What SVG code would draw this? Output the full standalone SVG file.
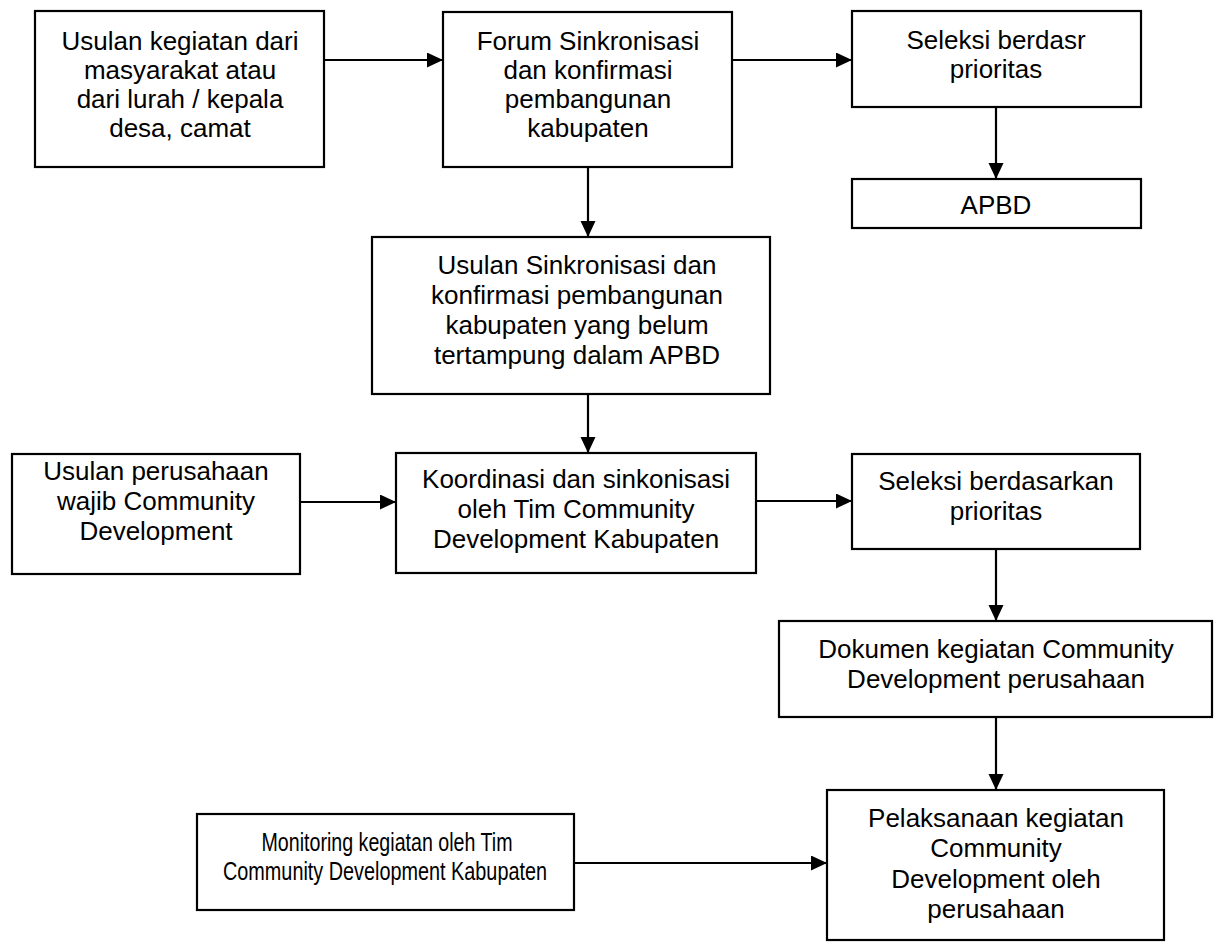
<svg xmlns="http://www.w3.org/2000/svg" width="1218" height="942" viewBox="0 0 1218 942">
<style>
.box{fill:#fff;stroke:#000;stroke-width:2.2}
.t{font-family:"Liberation Sans",Arial,sans-serif;font-size:26px;fill:#000;text-anchor:middle}
.c{stroke:#000;stroke-width:2.2;fill:none;marker-end:url(#ah)}
</style>
<defs>
<marker id="ah" markerUnits="userSpaceOnUse" markerWidth="17" markerHeight="16" refX="16" refY="7.5" orient="auto">
<path d="M0,0 L16,7.5 L0,15 z" fill="#000"/>
</marker>
</defs>
<rect width="1218" height="942" fill="#fff"/>
<g id="connectors">
<line class="c" x1="324" y1="60" x2="443" y2="60"/>
<line class="c" x1="732" y1="60" x2="852" y2="60"/>
<line class="c" x1="996" y1="107" x2="996" y2="179"/>
<line class="c" x1="588" y1="167" x2="588" y2="237"/>
<line class="c" x1="588" y1="394" x2="588" y2="453"/>
<line class="c" x1="300" y1="502" x2="396" y2="502"/>
<line class="c" x1="756" y1="501" x2="852" y2="501"/>
<line class="c" x1="996" y1="549" x2="996" y2="621"/>
<line class="c" x1="996" y1="717" x2="996" y2="790"/>
<line class="c" x1="574" y1="863" x2="827" y2="863"/>
</g>
<g id="n1">
<rect class="box" x="35" y="11" width="289" height="156"/>
<text class="t" x="180" y="50">Usulan kegiatan dari</text>
<text class="t" x="180" y="79">masyarakat atau</text>
<text class="t" x="180" y="108">dari lurah / kepala</text>
<text class="t" x="180" y="137">desa, camat</text>
</g>
<g id="n2">
<rect class="box" x="443" y="12" width="289" height="155"/>
<text class="t" x="588" y="50">Forum Sinkronisasi</text>
<text class="t" x="588" y="79">dan konfirmasi</text>
<text class="t" x="588" y="108">pembangunan</text>
<text class="t" x="588" y="137">kabupaten</text>
</g>
<g id="n3">
<rect class="box" x="852" y="11" width="289" height="96"/>
<text class="t" x="996" y="49">Seleksi berdasr</text>
<text class="t" x="996" y="78">prioritas</text>
</g>
<g id="n4">
<rect class="box" x="852" y="179" width="289" height="49"/>
<text class="t" x="996" y="214">APBD</text>
</g>
<g id="n5">
<rect class="box" x="372" y="237" width="398" height="157"/>
<text class="t" x="577" y="274">Usulan Sinkronisasi dan</text>
<text class="t" x="577" y="304">konfirmasi pembangunan</text>
<text class="t" x="577" y="334">kabupaten yang belum</text>
<text class="t" x="577" y="364">tertampung dalam APBD</text>
</g>
<g id="n6">
<rect class="box" x="12" y="454" width="288" height="120"/>
<text class="t" x="156" y="480">Usulan perusahaan</text>
<text class="t" x="156" y="510">wajib Community</text>
<text class="t" x="156" y="540">Development</text>
</g>
<g id="n7">
<rect class="box" x="396" y="453" width="360" height="120"/>
<text class="t" x="576" y="488">Koordinasi dan sinkonisasi</text>
<text class="t" x="576" y="518">oleh Tim Community</text>
<text class="t" x="576" y="548">Development Kabupaten</text>
</g>
<g id="n8">
<rect class="box" x="852" y="454" width="288" height="95"/>
<text class="t" x="996" y="490">Seleksi berdasarkan</text>
<text class="t" x="996" y="520">prioritas</text>
</g>
<g id="n9">
<rect class="box" x="779" y="621" width="433" height="96"/>
<text class="t" x="996" y="658">Dokumen kegiatan Community</text>
<text class="t" x="996" y="688">Development perusahaan</text>
</g>
<g id="n10">
<rect class="box" x="827" y="790" width="337" height="150"/>
<text class="t" x="996" y="827">Pelaksanaan kegiatan</text>
<text class="t" x="996" y="857">Community</text>
<text class="t" x="996" y="888">Development oleh</text>
<text class="t" x="996" y="918">perusahaan</text>
</g>
<g id="n11">
<rect class="box" x="197" y="814" width="377" height="96"/>
<text class="t" x="387" y="851" textLength="251" lengthAdjust="spacingAndGlyphs">Monitoring kegiatan oleh Tim</text>
<text class="t" x="385" y="880" textLength="324" lengthAdjust="spacingAndGlyphs">Community Development Kabupaten</text>
</g>
</svg>
